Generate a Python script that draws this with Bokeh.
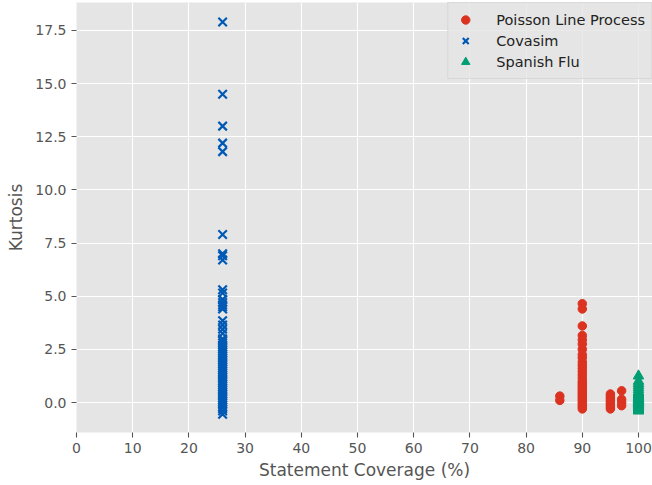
from bokeh.plotting import figure
from bokeh.models import FixedTicker, Range1d, Legend
from bokeh.embed import file_html
from bokeh.resources import INLINE

# --- data ---
poisson_x = [86, 86] + [90] * 29 + [95] * 8 + [97] * 4
poisson_y = ([0.3, 0.1] +
             [4.65, 4.4, 3.6, 3.15, 2.95, 2.75, 2.5, 2.25, 2.1, 1.9, 1.75, 1.6, 1.45, 1.3,
              1.15, 1.0, 0.9, 0.8, 0.7, 0.6, 0.5, 0.4, 0.3, 0.2, 0.1, 0.0, -0.1, -0.2, -0.3] +
             [0.4, 0.3, 0.2, 0.1, 0.0, -0.1, -0.2, -0.3] +
             [0.55, 0.15, 0.0, -0.15])

covasim_y = [17.9, 14.5, 13.0, 12.2, 11.8, 7.9, 7.0, 6.9, 6.7,
             5.3, 5.15, 4.85, 4.7, 4.6, 4.5, 4.4,
             3.85, 3.65, 3.45, 3.25, 3.0, 2.9, 2.8, 2.7, 2.6,
             2.5, 2.4, 2.3, 2.2, 2.1, 2.0, 1.9, 1.8, 1.7, 1.6, 1.5, 1.4, 1.3, 1.2, 1.1,
             1.0, 0.9, 0.8, 0.7, 0.6, 0.5, 0.4, 0.3, 0.2, 0.1, 0.0, -0.1, -0.2, -0.3,
             -0.4, -0.55]
covasim_x = [26] * len(covasim_y)

flu_y = [1.25, 1.0, 0.9, 0.8, 0.7, 0.6, 0.5, 0.45, 0.4, 0.35, 0.3, 0.25, 0.2, 0.15, 0.1,
         0.05, 0.0, -0.05, -0.1, -0.15, -0.2, -0.25, -0.3, -0.35, -0.4]
flu_x = [100] * len(flu_y)

x_ticks = [0, 10, 20, 30, 40, 50, 60, 70, 80, 90, 100]
y_ticks = [0.0, 2.5, 5.0, 7.5, 10.0, 12.5, 15.0, 17.5]

RED = "#DC3220"
BLUE = "#005AB5"
GREEN = "#009E73"
FONT = "DejaVu Sans"
GRAY = "#555555"

p = figure(width=652, height=485, output_backend="svg", toolbar_location=None,
           x_range=Range1d(0, 102.49), y_range=Range1d(-1.411, 18.815),
           min_border_left=76, min_border_right=0, min_border_top=2, min_border_bottom=53)

p.background_fill_color = "#E5E5E5"
p.border_fill_color = "white"
p.outline_line_color = None

r1 = p.scatter(poisson_x, poisson_y, marker="circle", size=8.5, fill_color=RED, line_color=RED)
r2 = p.scatter(covasim_x, covasim_y, marker="x", size=12, line_color=BLUE, line_width=2.2)
r3 = p.scatter(flu_x, flu_y, marker="triangle", size=10.5, fill_color=GREEN, line_color=GREEN)

for ax in (p.xaxis[0], p.yaxis[0]):
    ax.axis_line_color = None
    ax.major_tick_line_color = GRAY
    ax.major_tick_line_width = 1.1
    ax.major_tick_out = 5
    ax.major_tick_in = 0
    ax.minor_tick_line_color = None
    ax.major_label_text_font = FONT
    ax.major_label_text_font_size = "14px"
    ax.major_label_text_color = GRAY
    ax.axis_label_text_font = FONT
    ax.axis_label_text_font_size = "17px"
    ax.axis_label_text_color = GRAY
    ax.axis_label_text_font_style = "normal"
    ax.major_label_standoff = 5

p.xaxis.ticker = FixedTicker(ticks=x_ticks)
p.yaxis.ticker = FixedTicker(ticks=y_ticks)
p.xaxis.major_label_overrides = {t: str(t) for t in x_ticks}
p.yaxis.major_label_overrides = {t: f"{t:.1f}" for t in y_ticks}
p.xaxis.axis_label = "Statement Coverage (%)"
p.yaxis.axis_label = "Kurtosis"
p.xaxis.axis_label_standoff = 4
p.yaxis.axis_label_standoff = 6

p.xgrid.ticker = FixedTicker(ticks=x_ticks)
p.ygrid.ticker = FixedTicker(ticks=y_ticks)
p.grid.grid_line_color = "white"
p.grid.grid_line_width = 1.1

legend = Legend(items=[("Poisson Line Process", [r1]), ("Covasim", [r2]), ("Spanish Flu", [r3])],
                location="top_right")
legend.margin = 0
legend.padding = 6
legend.spacing = 0
legend.glyph_width = 22
legend.glyph_height = 21
legend.label_height = 21
legend.label_standoff = 20
legend.label_text_font = FONT
legend.label_text_font_size = "14.5px"
legend.label_text_color = "#222222"
legend.background_fill_color = "#E5E5E5"
legend.background_fill_alpha = 0.8
legend.border_line_color = "#CCCCCC"
legend.border_line_width = 1
p.add_layout(legend, "center")

open("out.html", "w").write(file_html(p, INLINE))
